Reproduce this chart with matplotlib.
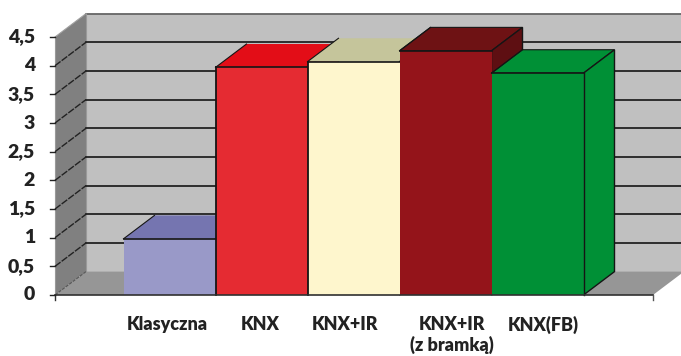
import matplotlib
matplotlib.use("Agg")
import matplotlib.pyplot as plt
from matplotlib.patches import Polygon

#values
categories = ["Klasyczna", "KNX", "KNX+IR", "KNX+IR\n(z bramką)", "KNX(FB)"]
values = [0.98, 3.97, 4.07, 4.26, 3.87]
y_ticks = [0, 0.5, 1, 1.5, 2, 2.5, 3, 3.5, 4, 4.5]
y_labels = ["0", "0,5", "1", "1,5", "2", "2,5", "3", "3,5", "4", "4,5"]

front_colors = ["#9999C8", "#E52B32", "#FEF6CD", "#94141A", "#009036"]
top_colors = ["#7575B0", "#E30D17", "#C5C59B", "#6E1214", "#009036"]
side_colors = ["#7575B0", "#C01018", "#C5C59B", "#5E0F12", "#009036"]
#which bars have a dark outline on the top face / on the left side
top_outline = [False, False, False, True, True]
left_outline = [False, True, True, False, False]

#pixel scale of the front plane
W, H = 681, 356
px_x = 92.0
px_y = 57.33
x0_px = 123.5
y0_px = 295

dx = 31 / px_x
dy = 23.4 / px_y
ymax = 4.5
xl = (55 - x0_px) / px_x
xr = (653 - x0_px) / px_x
dark = "#151515"

plt.rcParams["font.family"] = ["Lato", "DejaVu Sans"]
plt.rcParams["font.weight"] = "heavy"

fig = plt.figure(figsize=(W / 100, H / 100), dpi=100)
ax = fig.add_axes([0, 0, 1, 1])
ax.set_xlim(-x0_px / px_x, (W - x0_px) / px_x)
ax.set_ylim(-(H - y0_px) / px_y, y0_px / px_y)
ax.axis("off")

#walls and floor
ax.add_patch(Polygon([(xl + dx, dy), (xr + dx, dy), (xr + dx, ymax + dy), (xl + dx, ymax + dy)],
                     fc="#C0C0C0", ec="none", zorder=1))
ax.add_patch(Polygon([(xl, 0), (xl + dx, dy), (xl + dx, ymax + dy), (xl, ymax)],
                     fc="#808080", ec="none", zorder=1))
ax.add_patch(Polygon([(xl, 0), (xr, 0), (xr + dx, dy), (xl + dx, dy)],
                     fc="#969696", ec="none", zorder=1))
ax.plot([xl + dx, xr + dx], [ymax + dy, ymax + dy], color="#666666", lw=1.3, zorder=2)
ax.plot([xl, xl + dx], [ymax, ymax + dy], color="#A0A0A0", lw=0.8, zorder=2)
ax.plot([xl + dx, xl + dx], [dy, ymax + dy], color="#999999", lw=0.8, zorder=2)
ax.plot([xl, xl], [0, ymax], color="#999999", lw=0.8, zorder=2)

#gridlines, back wall and side wall
for t in y_ticks[1:-1]:
    ax.plot([xl + dx, xr + dx], [t + dy, t + dy], color=dark, lw=1.2, zorder=2)
    ax.plot([xl, xl + dx], [t, t + dy], color="#222222", lw=1.0, ls=(0, (5, 1)), zorder=2)
ax.plot([xl, xl + dx], [0, dy], color="#555555", lw=0.8, ls=(0, (3, 1)), zorder=2)

#bars, left to right so that each one covers the side of the previous one
for i, v in enumerate(values):
    z = 3 + i
    ax.add_patch(Polygon([(i, v), (i + 1, v), (i + 1 + dx, v + dy), (i + dx, v + dy)],
                         fc=top_colors[i], ec=dark if top_outline[i] else "none", lw=0.8, zorder=z))
    ax.add_patch(Polygon([(i + 1, 0), (i + 1 + dx, dy), (i + 1 + dx, v + dy), (i + 1, v)],
                         fc=side_colors[i], ec=dark, lw=1.0, zorder=z))
    ax.bar(i + 0.5, v, width=1, color=front_colors[i], edgecolor="none", zorder=z + 0.2)
    ax.plot([i, i + 1], [v, v], color=dark, lw=1.2, zorder=z + 0.3)
    if left_outline[i]:
        ax.plot([i, i], [0, v], color=dark, lw=1.3, zorder=z + 0.3)
    if i == len(values) - 1:
        ax.plot([i + 1, i + 1], [0, v], color=dark, lw=1.0, zorder=z + 0.3)
    ax.plot([i, i + dx], [v, v + dy], color=dark, lw=0.8, zorder=z + 0.1)

#front axis line and tick marks
ax.plot([xl, xr], [0, 0], color="#303030", lw=1.2, zorder=10)
ax.plot([xr, xr], [0, -5 / px_y], color="#555555", lw=1, zorder=10)
ax.plot([xl, xl], [0, -5 / px_y], color="#303030", lw=1, zorder=10)
for t, lab in zip(y_ticks, y_labels):
    ax.plot([xl - 5 / px_x, xl], [t, t], color="#222222", lw=1, zorder=10)
    ax.text((35 - x0_px) / px_x, t, lab, ha="right", va="center", fontsize=14, color="#222222")

#category labels
label_x = [167.5, 260, 345, 451.5, 543.5]
for lx, lab in zip(label_x, categories):
    ax.text((lx - x0_px) / px_x, (y0_px - 316) / px_y, lab, ha="center", va="top", fontsize=13,
            color="#222222", linespacing=1.2)

fig.savefig("out.png", dpi=100)
